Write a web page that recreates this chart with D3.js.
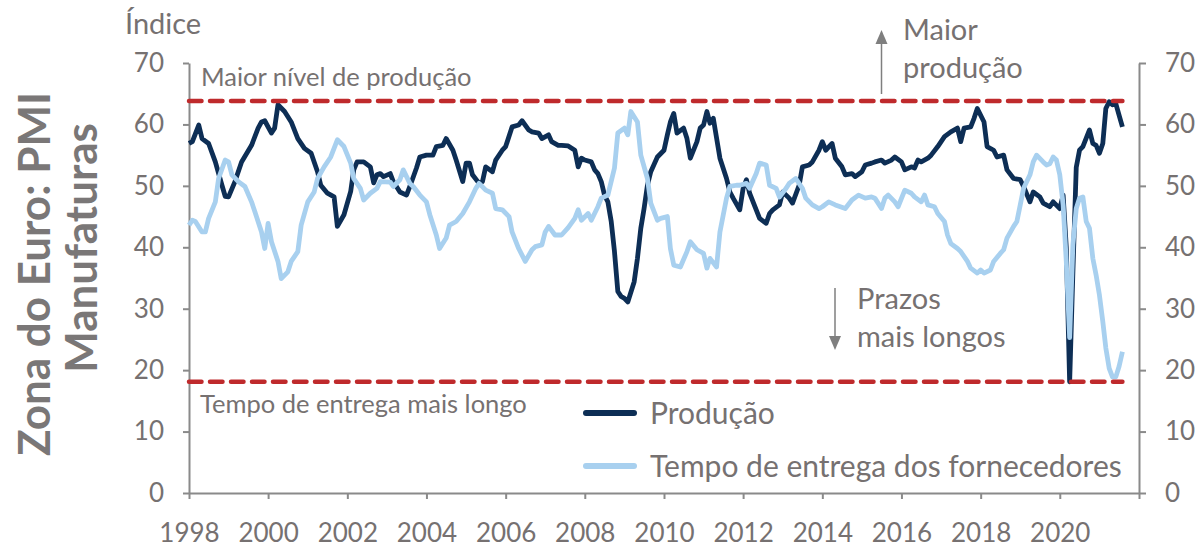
<!DOCTYPE html>
<html>
<head>
<meta charset="utf-8">
<script src="https://cdn.jsdelivr.net/npm/d3@7"></script>
<style>
  body { margin: 0; background: #fff; }
  text { font-family: Lato, 'Open Sans', sans-serif; }
</style>
</head>
<body>
<div id="chart"></div>
<script>
// monthly readings taken off the chart (not every month is kept)
const prodDates = [
  '1998-01','1998-02','1998-04','1998-05','1998-07','1998-09','1998-11','1998-12',
  '1999-01','1999-03','1999-05','1999-08','1999-10','1999-11','1999-12',
  '2000-02','2000-03','2000-04','2000-06','2000-08','2000-10','2000-12',
  '2001-02','2001-04','2001-05','2001-07','2001-09','2001-10','2001-12',
  '2002-02','2002-03','2002-04','2002-06','2002-08','2002-09','2002-10','2002-11','2002-12',
  '2003-02','2003-03','2003-05','2003-07','2003-08','2003-10','2003-11',
  '2004-01','2004-03','2004-04','2004-06','2004-07','2004-09','2004-10','2004-12',
  '2005-01','2005-02','2005-03','2005-05','2005-06','2005-07','2005-09','2005-10','2005-12',
  '2006-01','2006-03','2006-05','2006-06','2006-08','2006-09','2006-11','2006-12',
  '2007-02','2007-03','2007-05','2007-06','2007-08','2007-10','2007-11','2007-12',
  '2008-01','2008-03','2008-04','2008-05','2008-06','2008-07','2008-08','2008-09','2008-10','2008-11','2008-12',
  '2009-01','2009-02','2009-04','2009-05','2009-06','2009-07','2009-08','2009-09','2009-11',
  '2010-01','2010-02','2010-03','2010-04','2010-05','2010-07','2010-08','2010-09','2010-11','2010-12',
  '2011-01','2011-02','2011-03','2011-04','2011-06','2011-08','2011-09','2011-10','2011-12',
  '2012-01','2012-02','2012-03','2012-05','2012-06','2012-08','2012-09','2012-10','2012-12',
  '2013-01','2013-03','2013-04','2013-06','2013-07','2013-09','2013-10','2013-12',
  '2014-01','2014-02','2014-04','2014-05','2014-07','2014-08','2014-10','2014-11',
  '2015-01','2015-02','2015-04','2015-05','2015-07','2015-08','2015-10','2015-11',
  '2016-01','2016-02','2016-04','2016-05','2016-06','2016-07','2016-09','2016-10','2016-12',
  '2017-01','2017-02','2017-04','2017-06','2017-07','2017-08','2017-10','2017-11','2017-12',
  '2018-02','2018-03','2018-05','2018-06','2018-08','2018-09','2018-11',
  '2019-01','2019-02','2019-04','2019-05','2019-07','2019-08','2019-10','2019-11',
  '2020-01','2020-02','2020-03','2020-04','2020-05','2020-06','2020-07','2020-08','2020-10','2020-11','2020-12',
  '2021-01','2021-02','2021-03','2021-04','2021-05','2021-06','2021-07','2021-08'
];
const prodValues = [
  56.9,57.2,59.9,57.7,56.9,53.9,50.1,48.3,
  48.2,50.7,53.9,56.6,59.4,60.4,60.6,
  58.6,59.4,63.2,62.1,60.4,57.7,56.1,
  55.3,52.3,50.1,48.8,48.2,43.4,45.3,
  49.1,52.6,53.9,53.9,53.1,50.5,51.8,52.0,51.5,
  52.0,50.7,49.0,48.5,49.9,52.9,54.7,
  55.0,55.0,56.4,56.6,57.7,55.8,54.2,50.7,
  53.7,53.7,51.8,50.4,50.7,53.1,52.3,54.2,55.8,
  56.4,59.6,59.9,60.6,59.1,58.8,58.6,57.7,
  58.3,57.2,56.6,56.6,56.5,55.8,53.1,54.5,
  54.2,53.9,52.6,52.0,50.7,48.5,47.4,44.2,39.3,32.8,32.0,
  31.7,31.1,34.4,38.2,43.1,46.3,50.1,52.3,54.7,
  55.8,58.3,60.4,61.8,58.6,59.4,57.7,54.5,57.2,59.4,
  59.9,62.1,60.2,61.0,54.5,51.2,49.0,48.0,46.1,
  49.6,51.0,48.8,46.1,44.7,43.9,45.5,46.1,46.9,
  49.0,48.0,47.2,50.1,53.1,53.4,53.9,55.8,
  57.2,55.8,56.9,54.5,53.1,51.8,52.0,51.5,
  52.3,53.4,53.7,53.9,54.2,53.7,54.2,54.7,
  53.9,52.6,53.1,52.9,54.2,53.9,54.5,55.0,56.4,
  57.2,58.0,58.8,59.4,57.2,59.4,59.6,61.0,62.6,
  60.4,56.4,55.8,54.7,55.0,52.6,51.2,
  51.0,49.9,47.4,49.0,48.2,47.2,46.6,47.4,
  46.3,48.5,40.0,18.1,36.0,53.0,55.8,56.4,59.1,56.9,56.6,
  55.3,56.9,62.6,63.7,63.2,63.4,61.5,59.6
];

const delivDates = [
  '1998-01','1998-02','1998-03','1998-05','1998-06','1998-07','1998-09','1998-10','1998-12',
  '1999-01','1999-02','1999-04','1999-06','1999-08','1999-09','1999-11','1999-12',
  '2000-01','2000-02','2000-04','2000-05','2000-07','2000-08','2000-10','2000-11',
  '2001-01','2001-03','2001-04','2001-06','2001-08','2001-10','2001-12',
  '2002-02','2002-03','2002-05','2002-06','2002-08','2002-10','2002-11',
  '2003-02','2003-03','2003-05','2003-06','2003-08','2003-09','2003-11',
  '2004-01','2004-02','2004-04','2004-05','2004-07','2004-08','2004-10','2004-12',
  '2005-02','2005-04','2005-05','2005-07','2005-09','2005-10','2005-12',
  '2006-02','2006-03','2006-05','2006-07','2006-09','2006-10','2006-12',
  '2007-01','2007-02','2007-04','2007-06','2007-08','2007-10','2007-11','2007-12',
  '2008-02','2008-03','2008-05','2008-06','2008-08','2008-10','2008-11',
  '2009-01','2009-02','2009-03','2009-05','2009-06','2009-08','2009-09','2009-11','2009-12',
  '2010-02','2010-03','2010-04','2010-06','2010-08','2010-09','2010-11',
  '2011-01','2011-02','2011-03','2011-05','2011-06','2011-08','2011-09','2011-11','2011-12',
  '2012-02','2012-03','2012-05','2012-06','2012-08','2012-09','2012-11','2012-12',
  '2013-02','2013-03','2013-05','2013-07','2013-08','2013-10','2013-12',
  '2014-01','2014-03','2014-05','2014-08','2014-10','2014-12',
  '2015-02','2015-04','2015-05','2015-07','2015-08','2015-09','2015-11','2015-12',
  '2016-02','2016-04','2016-05','2016-07','2016-08','2016-09','2016-11','2016-12',
  '2017-02','2017-03','2017-04','2017-06','2017-07','2017-09','2017-10','2017-12',
  '2018-01','2018-02','2018-04','2018-05','2018-07','2018-08','2018-09','2018-11','2018-12',
  '2019-01','2019-02','2019-04','2019-05','2019-06','2019-08','2019-09','2019-10','2019-11','2019-12',
  '2020-01','2020-02','2020-03','2020-04','2020-05','2020-06','2020-07','2020-08','2020-09','2020-10','2020-11','2020-12',
  '2021-01','2021-02','2021-03','2021-04','2021-05','2021-06','2021-07','2021-08'
];
const delivValues = [
  43.6,44.4,44.2,42.5,42.5,44.7,47.4,51.2,54.2,
  53.9,51.8,50.7,49.9,47.4,45.8,42.5,39.8,
  43.9,40.9,37.7,34.9,36.0,37.7,39.3,43.6,
  47.4,49.0,51.2,53.1,54.7,57.5,56.4,
  53.7,51.2,49.6,47.7,48.8,49.6,50.7,
  50.6,49.9,51.0,52.6,50.4,49.9,48.5,
  47.4,45.3,42.0,39.8,41.5,43.6,44.2,45.5,
  47.4,49.6,50.4,49.3,48.8,46.3,46.1,
  45.0,42.5,39.8,37.7,39.6,40.1,40.4,
  42.5,43.4,42.0,42.0,43.2,44.7,46.1,44.4,
  45.5,44.4,46.6,48.0,48.5,52.9,58.6,
  59.4,58.3,62.1,60.4,55.0,51.2,47.2,44.4,44.7,
  45.0,39.8,37.1,36.8,39.3,40.9,39.6,
  39.0,36.6,38.2,36.8,42.5,48.0,49.9,50.1,50.1,
  50.4,49.6,52.0,53.7,53.4,50.1,49.6,48.2,
  49.6,50.4,51.2,49.6,48.0,46.9,46.3,
  46.6,47.4,46.9,46.3,47.7,48.5,
  48.0,48.2,48.0,46.3,48.0,48.5,47.4,46.6,
  49.3,48.8,48.2,47.4,48.5,46.9,46.6,45.5,
  44.2,42.0,40.6,39.8,39.3,37.7,36.6,35.8,
  36.3,35.8,36.3,37.7,39.0,39.6,41.5,43.4,44.2,
  46.9,49.6,51.8,53.9,55.0,53.9,53.4,53.6,54.7,54.2,
  51.8,46.9,37.7,25.3,40.4,46.3,48.0,48.2,44.2,43.1,38.2,35.5,
  32.2,27.9,23.6,20.3,18.9,18.9,20.6,23.0
];

// the two dashed reference levels and the span they cover
const maxProduction = 63.8;
const maxDeliveryTime = 18.1;
const refSpan = ['1998-01', '2021-08'];

const yTicks = [0, 10, 20, 30, 40, 50, 60, 70];
const xTickYears = [1998, 2000, 2002, 2004, 2006, 2008, 2010, 2012, 2014, 2016, 2018, 2020, 2022];

const seriesNames = ['Produção', 'Tempo de entrega dos fornecedores'];

// dimensions of the plot area
const width = 1201,
  height = 548;
const plot = { left: 189, right: 1139, top: 63, bottom: 493 };

const textColor = '#767171';
const axisColor = '#8a8a8a';
const darkBlue = '#0d2e55';
const lightBlue = '#a8d0ef';
const red = '#bf2a2c';

const svg = d3
  .select('#chart')
  .append('svg')
  .attr('width', width)
  .attr('height', height);

const parse = d3.timeParse('%Y-%m');
const prod = prodDates.map((d, i) => ({ date: parse(d), value: prodValues[i] }));
const deliv = delivDates.map((d, i) => ({ date: parse(d), value: delivValues[i] }));

// X axis (dates)
const x = d3
  .scaleTime()
  .domain([new Date(1998, 0, 1), new Date(2022, 0, 1)])
  .range([plot.left, plot.right]);

// Y axes, same scale on both sides
const y = d3.scaleLinear().domain([0, 70]).range([plot.bottom, plot.top]);

function styleAxis(g) {
  g.attr('font-size', 26).attr('font-family', 'Lato, sans-serif');
  g.select('.domain').attr('stroke', axisColor).attr('stroke-width', 2);
  g.selectAll('.tick line').attr('stroke', axisColor).attr('stroke-width', 2);
  g.selectAll('.tick text').attr('fill', textColor);
}

svg
  .append('g')
  .attr('transform', `translate(0,${plot.bottom})`)
  .call(
    d3
      .axisBottom(x)
      .tickValues(xTickYears.map((yr) => new Date(yr, 0, 1)))
      .tickFormat((d) => (d.getFullYear() === 2022 ? '' : d.getFullYear()))
      .tickSize(6)
      .tickSizeOuter(0)
      .tickPadding(25)
  )
  .call(styleAxis);

svg
  .append('g')
  .attr('transform', `translate(${plot.left},0)`)
  .call(d3.axisLeft(y).tickValues(yTicks).tickSize(6).tickSizeOuter(0).tickPadding(19))
  .call(styleAxis);

svg
  .append('g')
  .attr('transform', `translate(${plot.right},0)`)
  .call(d3.axisRight(y).tickValues(yTicks).tickSize(7).tickSizeOuter(0).tickPadding(19))
  .call(styleAxis);

// the two series
const line = d3
  .line()
  .x((d) => x(d.date))
  .y((d) => y(d.value));

svg
  .append('path')
  .datum(prod)
  .attr('fill', 'none')
  .attr('stroke', darkBlue)
  .attr('stroke-width', 4.8)
  .attr('stroke-linejoin', 'round')
  .attr('d', line);

svg
  .append('path')
  .datum(deliv)
  .attr('fill', 'none')
  .attr('stroke', lightBlue)
  .attr('stroke-width', 4.8)
  .attr('stroke-linejoin', 'round')
  .attr('d', line);

// dashed reference lines
[maxProduction, maxDeliveryTime].forEach((v) => {
  svg
    .append('path')
    .datum(refSpan.map((d) => ({ date: parse(d), value: v })))
    .attr('fill', 'none')
    .attr('stroke', red)
    .attr('stroke-width', 4.5)
    .attr('stroke-linecap', 'round')
    .attr('stroke-dasharray', '12.5 8.5')
    .attr('d', line);
});

// labels of the reference lines
svg
  .append('text')
  .attr('x', 201)
  .attr('y', 86)
  .attr('font-size', 25.5)
  .attr('fill', textColor)
  .text('Maior nível de produção');

svg
  .append('text')
  .attr('x', 200)
  .attr('y', 413)
  .attr('font-size', 25.5)
  .attr('fill', textColor)
  .text('Tempo de entrega mais longo');

// arrows with their notes
const arrowColor = '#7f7f7f';
svg.append('line').attr('x1', 881.5).attr('x2', 881.5).attr('y1', 94).attr('y2', 42)
  .attr('stroke', arrowColor).attr('stroke-width', 1.5);
svg.append('path').attr('d', 'M875.5,44 L881.5,30 L887.5,44 Z').attr('fill', arrowColor);

svg.append('line').attr('x1', 835).attr('x2', 835).attr('y1', 288).attr('y2', 338)
  .attr('stroke', arrowColor).attr('stroke-width', 1.5);
svg.append('path').attr('d', 'M829,336 L835,350 L841,336 Z').attr('fill', arrowColor);

const note = svg.append('g').attr('font-size', 29).attr('fill', textColor);
note.append('text').attr('x', 903).attr('y', 40).text('Maior');
note.append('text').attr('x', 903).attr('y', 78).text('produção');
note.append('text').attr('x', 857).attr('y', 309).text('Prazos');
note.append('text').attr('x', 857).attr('y', 347).text('mais longos');

// legend
const legend = svg.append('g');
[darkBlue, lightBlue].forEach((c, i) => {
  const ly = 413 + i * 53;
  legend.append('line')
    .attr('x1', 586).attr('x2', 634).attr('y1', ly).attr('y2', ly)
    .attr('stroke', c).attr('stroke-width', 6).attr('stroke-linecap', 'round');
  legend.append('text')
    .attr('x', 650).attr('y', ly + 11)
    .attr('font-size', 30)
    .attr('fill', textColor)
    .text(seriesNames[i]);
});

// unit and axis title
svg.append('text').attr('x', 125).attr('y', 34).attr('font-size', 29).attr('fill', textColor).text('Índice');

const title = svg.append('g').attr('font-size', 44).attr('font-weight', 'bold').attr('fill', '#7a7777').attr('text-anchor', 'middle');
title.append('text').attr('transform', 'translate(50,274) rotate(-90)').text('Zona do Euro: PMI');
title.append('text').attr('transform', 'translate(97,248) rotate(-90)').text('Manufaturas');
</script>
</body>
</html>
